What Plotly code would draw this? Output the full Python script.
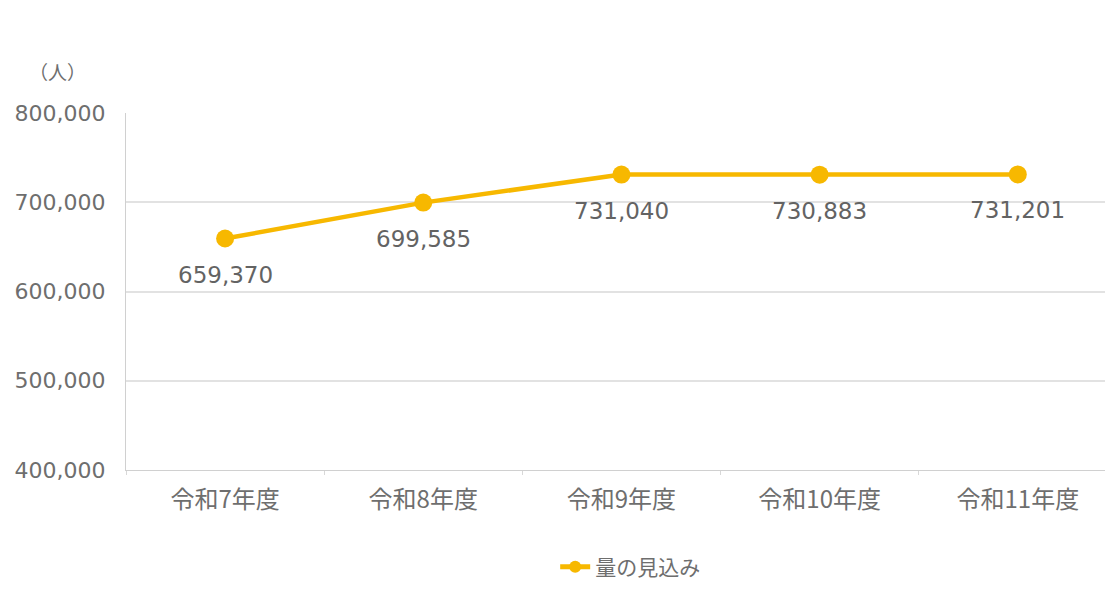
import plotly.graph_objects as go

# 年度別の量の見込み（人）
categories = ["令和7年度", "令和8年度", "令和9年度", "令和10年度", "令和11年度"]
values = [659370, 699585, 731040, 730883, 731201]
tick_vals = [400000, 500000, 600000, 700000, 800000]
tick_text = ["400,000", "500,000", "600,000", "700,000", "800,000"]
series_name = "量の見込み"

LINE = "#F7B800"
TEXT = "#6e6e6e"
GRID = "#E2E2E2"
CJK = "Noto Sans CJK JP"
NUM = "DejaVu Sans"

fig = go.Figure()
fig.add_trace(go.Scatter(
    x=categories,
    y=values,
    name=series_name,
    mode="lines+markers",
    line=dict(color=LINE, width=4.5),
    marker=dict(color=LINE, size=18),
    cliponaxis=False,
))

# value labels under each point
annotations = [
    dict(
        x=c, y=v, xref="x", yref="y",
        text=f"{v:,}",
        showarrow=False,
        xanchor="center", yanchor="middle",
        yshift=-36,
        font=dict(family=NUM, size=23, color="#636363"),
    )
    for c, v in zip(categories, values)
]
annotations.append(dict(
    text="（人）",
    xref="paper", yref="paper",
    x=-0.07, y=1.115,
    xanchor="center", yanchor="middle",
    showarrow=False,
    font=dict(family=CJK, size=19, color=TEXT),
))

fig.update_layout(
    width=1105,
    height=604,
    margin=dict(l=126, r=0, t=113, b=134),
    paper_bgcolor="white",
    plot_bgcolor="white",
    font=dict(family=CJK, size=17, color=TEXT),
    showlegend=True,
    legend=dict(
        orientation="h",
        x=0.515, xanchor="center",
        y=-0.272, yanchor="middle",
        font=dict(family=CJK, size=21, color=TEXT),
        itemsizing="constant",
    ),
    xaxis=dict(
        type="category",
        range=[-0.5, 4.44],
        showgrid=False,
        showline=True,
        linecolor="#D0D0D0",
        linewidth=1,
        ticks="outside",
        tickson="boundaries",
        ticklen=4,
        tickcolor="#D8D8D8",
        ticklabelstandoff=8,
        tickfont=dict(family=CJK, size=24, color=TEXT),
        fixedrange=True,
    ),
    yaxis=dict(
        range=[400000, 800000],
        tickvals=tick_vals,
        ticktext=tick_text,
        showgrid=True,
        gridcolor=GRID,
        gridwidth=1.5,
        showline=True,
        linecolor="#D0D0D0",
        linewidth=1,
        ticks="",
        ticklabelstandoff=15,
        tickfont=dict(family=NUM, size=22, color=TEXT),
        zeroline=False,
        fixedrange=True,
    ),
    annotations=annotations,
)

fig.write_html("out.html")
